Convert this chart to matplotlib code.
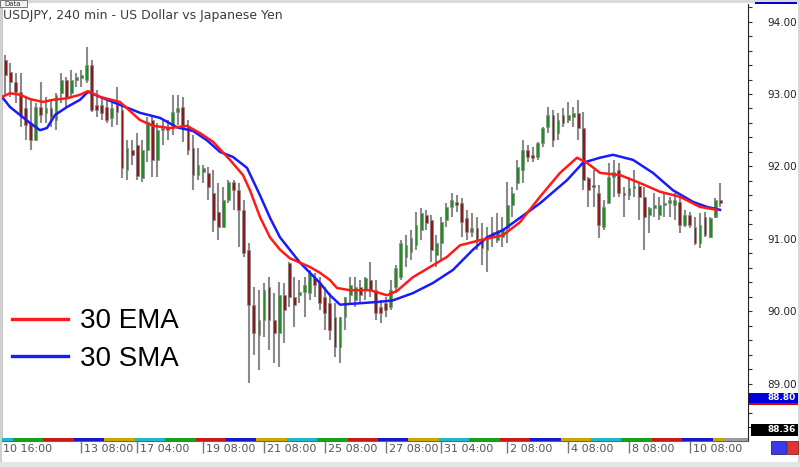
import matplotlib
matplotlib.use('Agg')
import matplotlib.pyplot as plt
from matplotlib.patches import Rectangle
from matplotlib.ticker import MultipleLocator
import matplotlib.transforms as mtrans
import numpy as np

# USDJPY 4h candles
opens = [93.47, 93.30, 93.17, 93.03, 92.81, 92.60, 92.36, 92.82, 92.74, 92.81,
         92.64, 93.01, 93.19, 93.01, 93.19, 93.22, 93.19, 93.40, 92.85, 92.85,
         92.82, 92.67, 92.85, 92.78, 91.95, 92.23, 92.30, 91.84, 92.23, 92.64,
         92.09, 92.50, 92.53, 92.57, 92.75, 92.82, 92.54, 92.25, 91.88, 91.92,
         91.91, 91.63, 91.37, 91.16, 91.54, 91.78, 91.67, 91.40, 90.85, 90.09,
         89.67, 89.88, 90.33, 89.88, 89.70, 90.22, 90.67, 90.20, 90.22, 90.27,
         90.25, 90.46, 90.39, 90.20, 90.11, 89.92, 89.51, 89.92, 90.22, 90.15,
         90.33, 90.29, 90.43, 90.29, 90.06, 90.11, 90.06, 90.33, 90.47, 90.75,
         90.82, 90.91, 91.12, 91.33, 91.26, 90.78, 90.94, 91.26, 91.44, 91.51,
         91.49, 91.29, 91.09, 91.15, 90.98, 90.85, 91.02, 90.98, 91.02, 91.15,
         91.47, 91.77, 91.95, 92.23, 92.16, 92.13, 92.32, 92.54, 92.71, 92.46,
         92.71, 92.64, 92.68, 92.74, 92.53, 91.84, 91.74, 91.63, 91.16, 91.49,
         91.85, 91.95, 91.63, 91.60, 91.70, 91.73, 91.58, 91.33, 91.43, 91.33,
         91.47, 91.49, 91.47, 91.51, 91.19, 91.33, 91.16, 90.94, 91.30, 91.02,
         91.30, 91.54]
highs = [93.54, 93.43, 93.29, 93.29, 92.96, 92.92, 92.88, 93.17, 92.96, 92.92,
         93.01, 93.29, 93.23, 93.33, 93.29, 93.33, 93.65, 93.47, 93.06, 92.96,
         92.92, 92.88, 93.10, 92.88, 92.36, 92.36, 92.46, 92.36, 92.68, 92.71,
         92.60, 92.64, 92.64, 92.99, 92.99, 92.96, 92.64, 92.43, 92.25, 92.02,
         91.99, 91.95, 91.77, 91.72, 91.81, 91.81, 91.77, 91.54, 90.94, 90.33,
         90.29, 90.39, 90.47, 90.25, 90.40, 90.39, 90.68, 90.47, 90.43, 90.47,
         90.57, 90.53, 90.47, 90.33, 90.25, 90.11, 89.92, 90.20, 90.47, 90.47,
         90.43, 90.47, 90.68, 90.43, 90.15, 90.20, 90.43, 90.64, 90.98, 91.05,
         91.12, 91.37, 91.43, 91.40, 91.33, 91.05, 91.30, 91.49, 91.63, 91.60,
         91.56, 91.40, 91.36, 91.30, 91.22, 91.16, 91.30, 91.36, 91.30, 91.78,
         91.72, 92.09, 92.36, 92.30, 92.27, 92.34, 92.54, 92.82, 92.78, 92.74,
         92.81, 92.89, 92.82, 92.92, 92.75, 91.85, 91.95, 91.74, 91.54, 92.05,
         92.09, 92.05, 91.72, 91.85, 91.95, 91.77, 91.72, 91.44, 91.63, 91.58,
         91.63, 91.58, 91.63, 91.58, 91.40, 91.37, 91.30, 91.36, 91.37, 91.30,
         91.56, 91.77]
lows = [92.99, 92.96, 92.88, 92.54, 92.36, 92.23, 92.36, 92.60, 92.60, 92.54,
        92.50, 92.88, 92.82, 92.96, 93.10, 93.10, 93.15, 92.75, 92.68, 92.64,
        92.60, 92.54, 92.57, 91.84, 91.81, 92.02, 91.81, 91.78, 92.06, 91.85,
        91.85, 92.30, 92.36, 92.43, 92.57, 92.34, 92.16, 91.67, 91.81, 91.77,
        91.54, 91.09, 90.98, 91.16, 91.49, 91.40, 90.89, 90.75, 89.01, 89.40,
        89.19, 89.64, 89.46, 89.28, 89.23, 89.56, 90.06, 89.78, 90.11, 89.92,
        90.15, 90.20, 90.02, 89.74, 89.60, 89.37, 89.28, 89.74, 90.11, 90.06,
        90.11, 90.15, 90.20, 89.88, 89.84, 89.92, 90.02, 90.25, 90.43, 90.61,
        90.71, 90.85, 90.98, 91.12, 90.68, 90.61, 90.71, 91.16, 91.30, 91.37,
        91.02, 90.98, 91.02, 90.85, 90.64, 90.54, 90.89, 90.94, 90.89, 90.94,
        91.30, 91.67, 91.77, 92.06, 92.06, 92.09, 92.27, 92.46, 92.27, 92.36,
        92.54, 92.60, 92.54, 92.36, 91.67, 91.44, 91.44, 91.01, 91.12, 91.49,
        91.58, 91.58, 91.30, 91.54, 91.58, 91.26, 90.85, 91.08, 91.30, 91.26,
        91.30, 91.30, 91.26, 91.08, 91.16, 91.15, 90.91, 90.87, 91.02, 91.01,
        91.29, 91.44]
closes = [93.26, 93.17, 93.03, 92.71, 92.57, 92.36, 92.82, 92.71, 92.81, 92.68,
          92.99, 93.19, 92.96, 93.19, 93.23, 93.26, 93.40, 92.78, 92.78, 92.74,
          92.64, 92.81, 92.75, 91.98, 92.25, 92.16, 91.87, 92.23, 92.61, 92.09,
          92.50, 92.53, 92.50, 92.75, 92.81, 92.54, 92.23, 91.88, 92.02, 91.98,
          91.72, 91.26, 91.16, 91.54, 91.78, 91.67, 91.40, 90.80, 90.09, 89.70,
          89.88, 90.29, 89.88, 89.70, 90.22, 90.02, 90.20, 90.09, 90.27, 90.36,
          90.53, 90.36, 90.11, 89.97, 89.74, 89.51, 89.92, 90.20, 90.36, 90.33,
          90.22, 90.46, 90.29, 89.97, 89.97, 90.02, 90.29, 90.60, 90.94, 90.91,
          91.01, 91.19, 91.36, 91.22, 90.85, 90.94, 91.23, 91.44, 91.54, 91.47,
          91.23, 91.09, 91.15, 90.98, 90.87, 91.02, 91.09, 91.12, 91.15, 91.47,
          91.63, 91.99, 92.23, 92.13, 92.12, 92.32, 92.53, 92.71, 92.36, 92.64,
          92.60, 92.71, 92.74, 92.53, 91.81, 91.67, 91.72, 91.19, 91.44, 91.85,
          91.92, 91.63, 91.60, 91.70, 91.73, 91.58, 91.30, 91.43, 91.47, 91.47,
          91.49, 91.54, 91.54, 91.19, 91.33, 91.19, 90.94, 91.19, 91.05, 91.29,
          91.54, 91.49]

# moving averages, sampled along the drawn lines (candle index, price)
ema_x = [-0.67, 0.91, 2.88, 4.85, 7.42, 9.39, 12.15, 14.71, 16.29, 18.66,
         22.60, 26.55, 29.11, 32.47, 35.82, 38.38, 40.95, 44.30, 46.86, 48.24,
         50.22, 52.19, 54.16, 56.13, 58.11, 60.08, 62.05, 64.02, 65.40, 67.97,
         71.91, 75.27, 77.24, 80.39, 83.75, 87.10, 89.66, 93.61, 98.15, 101.50,
         105.44, 109.39, 112.74, 114.71, 117.28, 121.22, 125.17, 129.11, 133.06, 137.00,
         140.36]
ema_y = [92.96, 93.01, 92.99, 92.93, 92.89, 92.92, 92.94, 92.99, 93.04, 92.96,
         92.89, 92.64, 92.56, 92.53, 92.56, 92.46, 92.34, 92.09, 91.88, 91.67,
         91.30, 91.02, 90.85, 90.73, 90.67, 90.61, 90.53, 90.43, 90.32, 90.29,
         90.29, 90.22, 90.28, 90.47, 90.61, 90.75, 90.91, 90.98, 91.05, 91.23,
         91.58, 91.91, 92.12, 92.05, 91.91, 91.88, 91.77, 91.65, 91.58, 91.44,
         91.40]
sma_x = [-0.67, 0.91, 2.88, 4.85, 6.82, 8.20, 9.78, 12.15, 14.71, 16.29,
         18.66, 22.60, 26.55, 30.49, 33.84, 37.00, 39.76, 42.33, 44.89, 47.65,
         50.22, 52.19, 54.16, 58.11, 62.05, 64.02, 66.00, 69.94, 73.88, 76.45,
         80.39, 84.34, 88.28, 92.23, 94.99, 98.15, 101.50, 105.44, 110.77, 113.92,
         117.28, 119.84, 123.79, 127.73, 131.67, 135.62, 138.38, 140.95]
sma_y = [92.96, 92.82, 92.71, 92.60, 92.50, 92.53, 92.71, 92.82, 92.92, 93.03,
         92.96, 92.85, 92.74, 92.67, 92.54, 92.49, 92.36, 92.20, 92.13, 91.98,
         91.60, 91.29, 91.02, 90.67, 90.39, 90.22, 90.09, 90.11, 90.13, 90.15,
         90.25, 90.39, 90.57, 90.85, 91.02, 91.12, 91.29, 91.49, 91.81, 92.05,
         92.12, 92.16, 92.09, 91.91, 91.67, 91.51, 91.44, 91.40]

# time axis
first_label = '10 16:00'
tick_pos = [15, 26, 39, 51, 63, 75, 86, 99, 111, 123, 135]
tick_labels = ['13 08:00', '17 04:00', '19 08:00', '21 08:00', '25 08:00', '27 08:00',
               '31 04:00', '2 08:00', '4 08:00', '8 08:00', '10 08:00']
day_edges = [1.5, 7.5, 13.5, 19.5, 25.5, 31.5, 37.5, 43.5, 49.5, 55.5, 61.5, 67.5,
             73.5, 79.5, 85.5, 91.5, 97.5, 103.5, 109.5, 115.5, 121.5, 127.5, 133.5, 139.5]
period_colors = ['#20b8c8', '#18a018', '#c81818', '#1818c8', '#c8a800']
y_labels = [89, 90, 91, 92, 93, 94]

W, H = 800, 467
fig = plt.figure(figsize=(W / 100, H / 100), dpi=100)
ax = fig.add_axes([2 / W, 1 - 441 / H, 746 / W, 437 / H])

o = np.array(opens); h = np.array(highs); l = np.array(lows); c = np.array(closes)
x = np.arange(len(c))
up = c >= o

# candles
ax.vlines(x, l, h, color='#8a8a8a', linewidth=1.5, zorder=2)
ax.bar(x, np.maximum(np.abs(c - o), 0.01), bottom=np.minimum(o, c), width=0.55,
       color=np.where(up, '#1f8f1f', '#8b1a1a'), edgecolor='#8a8a8a', linewidth=0.5, zorder=3)

sma_line, = ax.plot(sma_x, sma_y, color='#1a1aff', linewidth=1.8, zorder=4, label='30 SMA')
ema_line, = ax.plot(ema_x, ema_y, color='#ff1a1a', linewidth=1.8, zorder=5, label='30 EMA')

x0, x1 = -0.67, 146.47
ax.set_xlim(x0, x1)
ax.set_ylim(88.207, 94.243)

# price scale on the right
ax.yaxis.tick_right()
ax.set_yticks(y_labels, [f'{v:.2f}' for v in y_labels])
ax.yaxis.set_minor_locator(MultipleLocator(0.2))
ax.tick_params(axis='y', which='both', direction='out', length=3, width=0.8,
               color='#333333', pad=11, labelsize=7.5, labelcolor='#222222')

# time labels, left aligned next to a small separator
ax.set_xticks([-0.6] + tick_pos, [first_label] + tick_labels)
ax.tick_params(axis='x', length=0, pad=2, labelsize=8, labelcolor='#555555')
for i, lab in enumerate(ax.get_xticklabels()):
    lab.set_ha('left')
    dx = 1 if i == 0 else 3
    lab.set_transform(lab.get_transform() + mtrans.ScaledTranslation(dx / 100, 0, fig.dpi_scale_trans))
ax.vlines(tick_pos, -0.028, 0, transform=ax.get_xaxis_transform(), clip_on=False,
          color='#777777', linewidth=1)

# period separator bar along the bottom
edges = [x0] + day_edges + [141.5]
for k in range(len(edges) - 1):
    ax.add_patch(Rectangle((edges[k], 0), edges[k + 1] - edges[k], 0.008,
                           transform=ax.get_xaxis_transform(), color=period_colors[k % 5],
                           clip_on=False, zorder=6, linewidth=0))
ax.add_patch(Rectangle((141.5, 0), x1 - 141.5, 0.008, transform=ax.get_xaxis_transform(),
                       color='#9a9a9a', clip_on=False, zorder=6, linewidth=0))

ax.spines['top'].set_visible(False)
ax.spines['left'].set_color('#c8c8c8')
ax.spines['right'].set_color('#222222')
ax.spines['bottom'].set_color('#666666')
ax.spines['bottom'].set_linewidth(0.8)

fig.text(3 / W, 1 - 16 / H, 'USDJPY, 240 min - US Dollar vs Japanese Yen',
         fontsize=9, color='#3c3c3c', va='center', ha='left')

leg = ax.legend(handles=[ema_line, sma_line], loc='center left',
                bbox_to_anchor=(12 / W, 1 - 340 / H), bbox_transform=fig.transFigure,
                frameon=False, borderpad=0, borderaxespad=0, handlelength=2.0,
                handletextpad=0.45, labelspacing=0.4,
                prop={'family': 'Liberation Sans', 'size': 20})
for ln in leg.get_lines():
    ln.set_linewidth(2.4)

# window chrome: border, price boxes, buttons
def box(px, py, pw, ph, **kw):
    fig.patches.append(Rectangle((px / W, 1 - (py + ph) / H), pw / W, ph / H,
                                 transform=fig.transFigure, **kw))

box(0, 0, W, 3, color='#dadada', linewidth=0)
box(0, 0, 2, H, color='#d0d0d0', linewidth=0)
box(798, 0, 2, H, color='#d8d8d8', linewidth=0)
box(0, 462, W, 5, color='#e4e4e4', linewidth=0)
box(0, 0, 27, 7, facecolor='#f2f2f2', edgecolor='#666666', linewidth=0.6)
fig.text(4 / W, 1 - 3.5 / H, 'Data', fontsize=5, color='#333333', va='center')
box(755, 2, 42, 2, color='#0000cc', linewidth=0)
box(749, 393, 49, 10, color='#0000dd', linewidth=0)
box(749, 403, 49, 1.5, color='#dd0000', linewidth=0)
fig.text(768 / W, 1 - 398 / H, '88.80', fontsize=6.5, color='white', va='center', weight='bold')
box(751, 424, 47, 12, color='#000000', linewidth=0)
fig.text(768 / W, 1 - 430 / H, '88.36', fontsize=6.5, color='white', va='center', weight='bold')
box(771, 441, 15, 13, facecolor='#3b3be6', edgecolor='#222288', linewidth=0.6)
box(787, 441, 11, 13, facecolor='#e03333', edgecolor='#882222', linewidth=0.6)

plt.savefig('out.png', dpi=100)
